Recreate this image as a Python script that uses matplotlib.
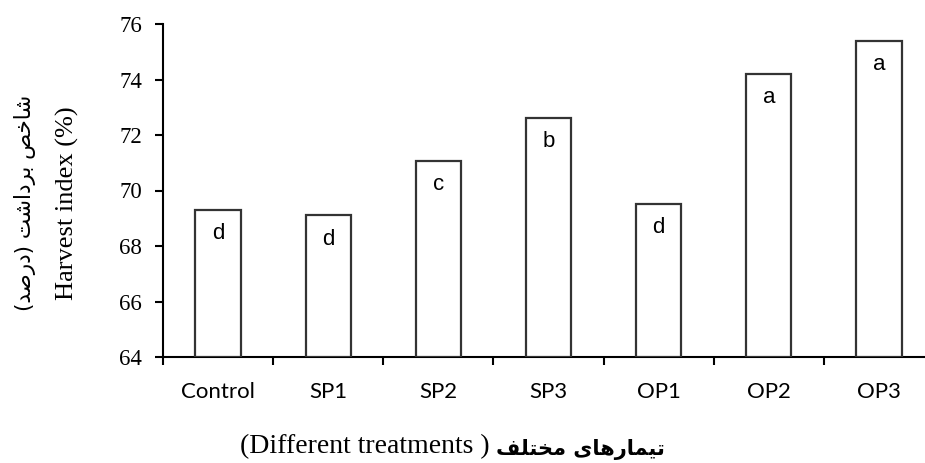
import matplotlib
matplotlib.use('Agg')
import matplotlib.pyplot as plt
import numpy as np

treatments = ['Control', 'SP1', 'SP2', 'SP3', 'OP1', 'OP2', 'OP3']
harvest_index = [69.3, 69.1, 71.05, 72.63, 69.5, 74.2, 75.4]
groups = ['d', 'd', 'c', 'b', 'd', 'a', 'a']

ylabel_fa = 'شاخص برداشت (درصد)'
ylabel_en = 'Harvest index (%)'
xlabel_fa = 'تیمارهای مختلف'
xlabel_en = '(Different treatments )'

# contextual forms: isolated, final, initial, medial (2 entries = right-joining only)
forms = {
    'ا': (0xFE8D, 0xFE8E), 'د': (0xFEA9, 0xFEAA), 'ر': (0xFEAD, 0xFEAE),
    'ب': (0xFE8F, 0xFE90, 0xFE91, 0xFE92), 'ت': (0xFE95, 0xFE96, 0xFE97, 0xFE98),
    'خ': (0xFEA5, 0xFEA6, 0xFEA7, 0xFEA8), 'ش': (0xFEB5, 0xFEB6, 0xFEB7, 0xFEB8),
    'ص': (0xFEB9, 0xFEBA, 0xFEBB, 0xFEBC), 'ل': (0xFEDD, 0xFEDE, 0xFEDF, 0xFEE0),
    'م': (0xFEE1, 0xFEE2, 0xFEE3, 0xFEE4), 'ه': (0xFEE9, 0xFEEA, 0xFEEB, 0xFEEC),
    'ی': (0xFBFC, 0xFBFD, 0xFBFE, 0xFBFF), 'ف': (0xFED1, 0xFED2, 0xFED3, 0xFED4),
}


def shape_rtl(text):
    out = []
    for i, c in enumerate(text):
        if c not in forms:
            out.append(c)
            continue
        prev = text[i - 1] if i > 0 else ''
        nxt = text[i + 1] if i + 1 < len(text) else ''
        jp = prev in forms and len(forms[prev]) == 4
        jn = len(forms[c]) == 4 and nxt in forms
        f = forms[c]
        if jp and jn:
            g = f[3]
        elif jp:
            g = f[1]
        elif jn:
            g = f[2]
        else:
            g = f[0]
        out.append(chr(g))
    swap = {'(': ')', ')': '('}
    return ''.join(swap.get(c, c) for c in reversed(out))


fig = plt.figure(figsize=(9.25, 4.63), dpi=100)
ax = fig.add_axes([163 / 925, 106 / 463, 771 / 925, 333 / 463])

x = np.arange(len(treatments))
ax.bar(x, [v - 64 for v in harvest_index], bottom=64, width=0.41,
       color='white', edgecolor='#333333', linewidth=1.6, zorder=3)

for xi, v, g in zip(x, harvest_index, groups):
    ax.annotate(g, (xi, v), xytext=(0, -17), textcoords='offset points',
                ha='center', va='center', fontsize=16, family='Liberation Sans')

ax.set_xlim(-0.5, 6.5)
ax.set_ylim(64, 76)
ax.set_yticks(np.arange(64, 77, 2))
ax.set_yticklabels([str(t) for t in range(64, 77, 2)], family='Liberation Serif', fontsize=16.5)
ax.set_xticks(x)
ax.set_xticklabels(treatments, family='Lato', fontsize=16)
ax.set_xticks(np.arange(-0.5, 7, 1), minor=True)
ax.tick_params(axis='x', which='major', length=0, pad=18)
ax.tick_params(axis='x', which='minor', length=6, width=1.5, direction='out')
ax.tick_params(axis='y', length=6, width=1.5, pad=9)

for s in ['top', 'right']:
    ax.spines[s].set_visible(False)
for s in ['left', 'bottom']:
    ax.spines[s].set_linewidth(1.5)

fig.text(67 / 925, 1 - 203 / 463, ylabel_en, rotation=90, ha='center', va='center',
         family='Liberation Serif', fontsize=19)
fig.text(25 / 925, 1 - 203 / 463, shape_rtl(ylabel_fa), rotation=90, ha='center',
         va='center', family='DejaVu Sans', fontsize=15.5)
fig.text(490 / 925, 1 - 447 / 463, xlabel_en, ha='right', va='center',
         family='Liberation Serif', fontsize=20)
fig.text(496 / 925, 1 - 449 / 463, shape_rtl(xlabel_fa), ha='left', va='center',
         family='DejaVu Sans', fontsize=15, fontweight='bold')

fig.savefig('out.png', dpi=100)
